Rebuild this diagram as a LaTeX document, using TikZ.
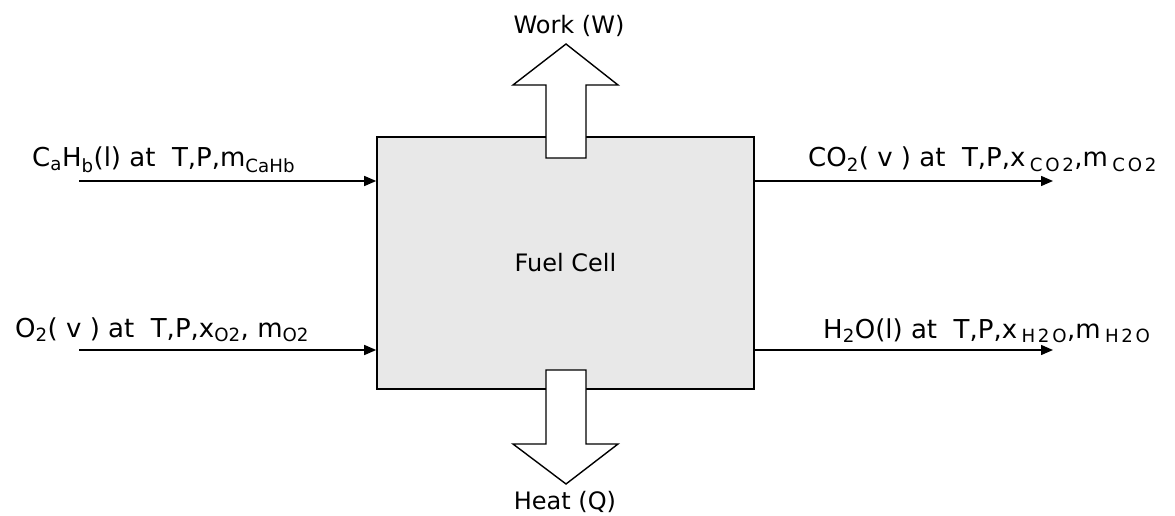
\documentclass[tikz,border=0pt]{standalone}
\usepackage{fontspec}
\setmainfont{DejaVu Sans}
\usetikzlibrary{arrows.meta,positioning}
\definecolor{cellgray}{HTML}{E8E8E8}
\newcommand{\lo}[1]{\textsubscript{#1}}
\newcommand{\wlo}[1]{\,\textsubscript{\addfontfeature{LetterSpace=15}#1}}

\begin{document}
\begin{tikzpicture}[x=1pt, y=-1pt,
  flow/.style={line width=1.4pt, -{Triangle[length=12pt,width=10pt]}},
  lbl/.style={anchor=base west, inner sep=0pt, font=\fontsize{26}{30}\selectfont},
  small/.style={inner sep=0pt, font=\fontsize{24}{28}\selectfont},
  energy/.style={draw, line width=1.4pt, fill=white}]
\useasboundingbox (0,0) rectangle (1175,516);
\node [draw, line width=1.6pt, fill=cellgray, minimum width=377pt, minimum height=252pt, small] (cell) at (565.5,263) {Fuel Cell};
% inlet and outlet streams
\coordinate (fuel) at (79,181);
\coordinate (oxy) at (79,350);
\coordinate (co2) at (1053,181);
\coordinate (h2o) at (1053,350);
\draw [flow] (fuel) -- (fuel -| cell.west);
\draw [flow] (oxy) -- (oxy -| cell.west);
\draw [flow] (cell.east |- co2) -- (co2);
\draw [flow] (cell.east |- h2o) -- (h2o);
\node [lbl] (fuellbl) at (32,167) {C\lo{a}H\lo{b}(l) at~~T,P,m\lo{CaHb}};
\node [lbl] (oxylbl) at (15,337) {O\lo{2}( v ) at~~T,P,x\lo{O2}, m\lo{O2}};
\node [lbl] (co2lbl) at (808,167) {CO\lo{2}( v ) at~~T,P,x\wlo{CO2},m\wlo{CO2}};
\node [lbl] (h2olbl) at (823,338) {H\lo{2}O(l) at~~T,P,x\wlo{H2O},m\wlo{H2O}};
% work and heat
\draw [energy] (546,158) -- (546,85) -- (513,85) -- (566,44) -- (618,85) -- (586,85) -- (586,158) -- cycle;
\draw [energy] (546,370) -- (546,444) -- (513,444) -- (566,484) -- (618,444) -- (586,444) -- (586,370) -- cycle;
\node [small] (work) at (569,26) {Work (W)};
\node [small] (heat) at (565,502) {Heat (Q)};
\end{tikzpicture}
\end{document}
